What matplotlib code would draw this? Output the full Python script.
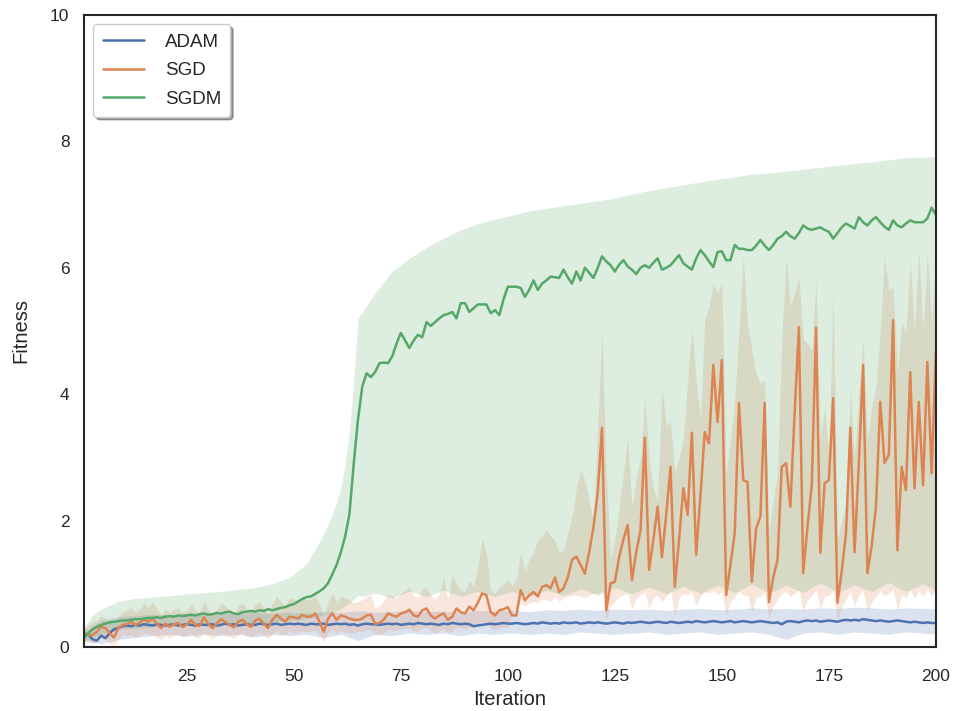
import numpy as np
import matplotlib
matplotlib.use("Agg")
import matplotlib.pyplot as plt
import seaborn as sns

# Iterations 1..200
iterations = np.arange(1, 201)

# Mean fitness per iteration
adam_mean = [
    0.17, 0.20, 0.12, 0.10, 0.18, 0.14, 0.22, 0.28, 0.30, 0.33,
    0.34, 0.33, 0.35, 0.34, 0.36, 0.35, 0.34, 0.36, 0.35, 0.34,
    0.35, 0.36, 0.34, 0.35, 0.36, 0.35, 0.34, 0.36, 0.35, 0.35,
    0.36, 0.34, 0.35, 0.37, 0.35, 0.36, 0.34, 0.35, 0.36, 0.35,
    0.35, 0.37, 0.36, 0.35, 0.36, 0.37, 0.35, 0.36, 0.37, 0.36,
    0.37, 0.36, 0.35, 0.37, 0.36, 0.36, 0.37, 0.35, 0.36, 0.37,
    0.36, 0.37, 0.35, 0.36, 0.34, 0.36, 0.37, 0.36, 0.36, 0.35,
    0.36, 0.37, 0.36, 0.37, 0.35, 0.36, 0.37, 0.36, 0.38, 0.37,
    0.36, 0.37, 0.36, 0.35, 0.37, 0.36, 0.38, 0.37, 0.36, 0.37,
    0.36, 0.33, 0.34, 0.35, 0.36, 0.37, 0.36, 0.37, 0.38, 0.37,
    0.37, 0.38, 0.37, 0.36, 0.37, 0.38, 0.37, 0.39, 0.38, 0.37,
    0.38, 0.37, 0.39, 0.38, 0.38, 0.39, 0.37, 0.38, 0.39, 0.38,
    0.39, 0.38, 0.37, 0.38, 0.39, 0.38, 0.37, 0.39, 0.38, 0.39,
    0.40, 0.39, 0.38, 0.39, 0.40, 0.39, 0.38, 0.40, 0.39, 0.38,
    0.39, 0.40, 0.39, 0.41, 0.40, 0.39, 0.40, 0.41, 0.40, 0.39,
    0.40, 0.41, 0.39, 0.40, 0.41, 0.40, 0.39, 0.40, 0.41, 0.40,
    0.39, 0.38, 0.39, 0.36, 0.40, 0.41, 0.40, 0.39, 0.41, 0.42,
    0.41, 0.42, 0.40, 0.41, 0.42, 0.41, 0.40, 0.42, 0.43, 0.42,
    0.43, 0.42, 0.44, 0.43, 0.42, 0.41, 0.42, 0.41, 0.40, 0.41,
    0.42, 0.41, 0.40, 0.39, 0.40, 0.39, 0.38, 0.39, 0.38, 0.38,
]

sgd_mean = [
    0.22, 0.19, 0.19, 0.24, 0.32, 0.30, 0.22, 0.15, 0.30, 0.35,
    0.36, 0.40, 0.35, 0.38, 0.44, 0.40, 0.45, 0.37, 0.30, 0.37,
    0.32, 0.36, 0.38, 0.32, 0.35, 0.43, 0.35, 0.33, 0.47, 0.37,
    0.30, 0.37, 0.44, 0.40, 0.35, 0.31, 0.40, 0.43, 0.36, 0.32,
    0.42, 0.45, 0.37, 0.30, 0.43, 0.51, 0.45, 0.40, 0.48, 0.47,
    0.45, 0.51, 0.48, 0.48, 0.53, 0.40, 0.24, 0.45, 0.53, 0.43,
    0.50, 0.48, 0.45, 0.43, 0.43, 0.45, 0.50, 0.51, 0.37, 0.38,
    0.43, 0.53, 0.50, 0.48, 0.53, 0.55, 0.59, 0.50, 0.48, 0.58,
    0.61, 0.50, 0.45, 0.50, 0.53, 0.43, 0.48, 0.61, 0.55, 0.53,
    0.64, 0.58, 0.70, 0.85, 0.82, 0.55, 0.50, 0.58, 0.60, 0.63,
    0.50, 0.50, 0.90, 0.74, 0.82, 0.87, 0.80, 0.95, 0.98, 0.93,
    1.10, 0.87, 0.93, 1.10, 1.38, 1.43, 1.30, 1.16, 1.50, 1.90,
    2.44, 3.47, 0.58, 1.01, 1.03, 1.42, 1.70, 1.93, 1.06, 1.50,
    1.85, 3.31, 1.22, 1.70, 2.22, 1.42, 2.10, 2.85, 0.95, 1.70,
    2.51, 2.09, 3.39, 1.46, 2.40, 3.40, 3.22, 4.46, 3.56, 4.54,
    0.82, 1.30, 1.80, 3.86, 2.64, 2.61, 1.03, 1.88, 2.06, 3.86,
    0.71, 1.10, 1.38, 2.85, 2.91, 2.22, 3.70, 5.06, 1.17, 1.90,
    2.56, 5.05, 1.49, 2.59, 2.64, 3.94, 0.70, 1.20, 1.80, 3.47,
    1.50, 2.90, 4.46, 1.17, 1.60, 2.22, 3.88, 2.91, 3.04, 5.17,
    1.53, 2.85, 2.48, 4.35, 2.51, 3.88, 2.56, 4.51, 2.75, 4.67,
]

sgdm_mean = [
    0.15, 0.22, 0.28, 0.32, 0.35, 0.37, 0.39, 0.40, 0.41, 0.42,
    0.42, 0.43, 0.44, 0.44, 0.45, 0.46, 0.46, 0.47, 0.46, 0.48,
    0.49, 0.48, 0.50, 0.49, 0.50, 0.51, 0.50, 0.52, 0.53, 0.51,
    0.52, 0.54, 0.53, 0.55, 0.56, 0.53, 0.52, 0.55, 0.56, 0.57,
    0.56, 0.58, 0.57, 0.60, 0.58, 0.60, 0.62, 0.63, 0.66, 0.68,
    0.72, 0.76, 0.79, 0.80, 0.84, 0.88, 0.93, 1.01, 1.15, 1.30,
    1.50, 1.75, 2.10, 2.90, 3.60, 4.12, 4.33, 4.27, 4.35, 4.49,
    4.50, 4.49, 4.60, 4.80, 4.97, 4.85, 4.73, 4.85, 4.94, 4.90,
    5.14, 5.08, 5.14, 5.20, 5.25, 5.27, 5.30, 5.20, 5.44, 5.44,
    5.30, 5.36, 5.42, 5.42, 5.42, 5.28, 5.33, 5.25, 5.50, 5.70,
    5.70, 5.70, 5.68, 5.54, 5.65, 5.80, 5.65, 5.75, 5.80, 5.86,
    5.85, 5.84, 5.97, 5.85, 5.75, 5.94, 5.80, 6.00, 5.92, 5.84,
    6.00, 6.18, 6.10, 6.04, 5.94, 6.05, 6.12, 6.02, 5.97, 5.90,
    6.00, 6.04, 6.00, 6.08, 6.15, 5.97, 6.00, 6.04, 6.12, 6.20,
    6.07, 6.02, 5.97, 6.15, 6.28, 6.20, 6.10, 6.01, 6.25, 6.26,
    6.12, 6.12, 6.36, 6.30, 6.30, 6.28, 6.28, 6.35, 6.44, 6.35,
    6.28, 6.36, 6.46, 6.50, 6.57, 6.50, 6.46, 6.55, 6.67, 6.62,
    6.60, 6.62, 6.64, 6.60, 6.57, 6.46, 6.55, 6.64, 6.70, 6.66,
    6.62, 6.80, 6.72, 6.67, 6.75, 6.80, 6.72, 6.65, 6.60, 6.75,
    6.67, 6.64, 6.70, 6.75, 6.72, 6.72, 6.72, 6.78, 6.95, 6.84,
]

# SGD confidence band, per iteration
sgd_lo = [
    0.12, 0.08, 0.05, 0.10, 0.15, 0.12, 0.05, 0.03, 0.12, 0.20,
    0.18, 0.20, 0.15, 0.18, 0.22, 0.20, 0.20, 0.15, 0.12, 0.18,
    0.15, 0.18, 0.20, 0.15, 0.18, 0.22, 0.15, 0.15, 0.22, 0.18,
    0.12, 0.18, 0.22, 0.20, 0.16, 0.14, 0.20, 0.22, 0.17, 0.15,
    0.20, 0.22, 0.18, 0.14, 0.20, 0.25, 0.20, 0.20, 0.25, 0.22,
    0.22, 0.26, 0.24, 0.25, 0.28, 0.20, 0.08, 0.22, 0.28, 0.22,
    0.25, 0.24, 0.22, 0.22, 0.24, 0.25, 0.27, 0.28, 0.18, 0.20,
    0.22, 0.28, 0.26, 0.26, 0.28, 0.30, 0.30, 0.26, 0.25, 0.30,
    0.32, 0.26, 0.22, 0.26, 0.28, 0.22, 0.25, 0.32, 0.30, 0.28,
    0.32, 0.30, 0.35, 0.40, 0.38, 0.30, 0.28, 0.30, 0.32, 0.30,
    0.55, 0.60, 0.70, 0.65, 0.70, 0.72, 0.70, 0.75, 0.75, 0.72,
    0.80, 0.72, 0.78, 0.80, 0.82, 0.82, 0.80, 0.78, 0.82, 0.85,
    0.85, 0.88, 0.42, 0.65, 0.72, 0.80, 0.82, 0.85, 0.60, 0.78,
    0.82, 0.88, 0.62, 0.78, 0.82, 0.72, 0.80, 0.88, 0.50, 0.78,
    0.85, 0.82, 0.88, 0.65, 0.80, 0.88, 0.85, 0.90, 0.82, 0.88,
    0.50, 0.72, 0.80, 0.88, 0.82, 0.82, 0.55, 0.78, 0.80, 0.88,
    0.45, 0.65, 0.75, 0.85, 0.88, 0.80, 0.85, 0.90, 0.55, 0.75,
    0.82, 0.90, 0.60, 0.80, 0.82, 0.88, 0.42, 0.62, 0.75, 0.88,
    0.65, 0.82, 0.90, 0.55, 0.72, 0.80, 0.88, 0.82, 0.85, 0.92,
    0.60, 0.82, 0.78, 0.90, 0.78, 0.88, 0.80, 0.92, 0.80, 0.92,
]

sgd_hi = [
    0.30, 0.35, 0.40, 0.42, 0.50, 0.45, 0.40, 0.38, 0.48, 0.55,
    0.58, 0.62, 0.55, 0.60, 0.70, 0.62, 0.72, 0.60, 0.52, 0.60,
    0.55, 0.60, 0.62, 0.55, 0.58, 0.68, 0.58, 0.55, 0.72, 0.60,
    0.52, 0.60, 0.70, 0.65, 0.58, 0.52, 0.65, 0.70, 0.60, 0.55,
    0.68, 0.72, 0.62, 0.52, 0.70, 0.80, 0.72, 0.65, 0.78, 0.75,
    0.72, 0.80, 0.75, 0.75, 0.82, 0.68, 0.50, 0.72, 0.85, 0.72,
    0.80, 0.78, 0.75, 0.70, 0.72, 0.75, 0.80, 0.82, 0.62, 0.65,
    0.72, 0.85, 0.80, 0.78, 0.85, 0.90, 0.95, 0.80, 0.78, 0.92,
    0.95, 0.82, 0.75, 0.85, 1.10, 0.75, 1.15, 1.00, 0.90, 0.88,
    1.05, 0.95, 1.30, 1.70, 1.50, 0.90, 0.85, 0.95, 1.00, 1.06,
    0.96, 1.10, 1.49, 1.20, 1.40, 1.50, 1.69, 1.75, 1.85, 1.75,
    1.69, 1.49, 1.54, 1.80, 2.06, 2.50, 2.80, 2.65, 2.30, 2.00,
    3.50, 4.97, 2.75, 1.38, 1.69, 2.20, 2.75, 3.33, 2.22, 2.65,
    3.00, 3.96, 3.00, 2.50, 2.33, 4.12, 3.49, 3.57, 2.75, 3.00,
    3.28, 4.20, 5.07, 4.22, 3.60, 5.17, 5.39, 5.75, 5.60, 5.75,
    2.75, 3.30, 3.91, 5.00, 6.17, 5.12, 4.70, 4.33, 4.17, 4.22,
    1.85, 2.30, 2.75, 4.86, 6.17, 5.39, 5.60, 5.86, 4.86, 4.80,
    4.70, 5.80, 3.28, 3.80, 3.00, 5.65, 1.69, 2.00, 2.22, 4.06,
    3.00, 4.00, 4.86, 3.28, 3.80, 4.12, 4.97, 6.17, 5.65, 5.70,
    4.33, 5.12, 5.00, 6.12, 5.00, 6.28, 5.00, 6.23, 5.12, 6.28,
]

# ADAM band, read every 4 iterations
adam_band_iter = [1, 5, 9, 13, 17, 21, 25, 29, 33, 37, 41, 45, 49, 53, 57, 61, 65,
                  69, 73, 77, 81, 85, 89, 93, 97, 101, 105, 109, 113, 117, 121, 125,
                  129, 133, 137, 141, 145, 149, 153, 157, 161, 165, 169, 173, 177,
                  181, 185, 189, 193, 197, 200]
adam_lo = [0.10, 0.05, 0.12, 0.15, 0.18, 0.20, 0.17, 0.20, 0.18, 0.20, 0.16, 0.20,
           0.18, 0.20, 0.15, 0.20, 0.10, 0.20, 0.18, 0.22, 0.20, 0.22, 0.18, 0.22,
           0.20, 0.22, 0.20, 0.22, 0.20, 0.24, 0.22, 0.20, 0.22, 0.24, 0.20, 0.22,
           0.24, 0.20, 0.22, 0.24, 0.20, 0.12, 0.22, 0.24, 0.20, 0.24, 0.22, 0.20,
           0.24, 0.22, 0.20]
adam_hi = [0.25, 0.42, 0.48, 0.50, 0.52, 0.50, 0.53, 0.52, 0.54, 0.52, 0.55, 0.53,
           0.55, 0.54, 0.56, 0.55, 0.57, 0.55, 0.56, 0.58, 0.56, 0.57, 0.55, 0.58,
           0.57, 0.58, 0.56, 0.59, 0.58, 0.60, 0.58, 0.60, 0.59, 0.60, 0.58, 0.60,
           0.61, 0.59, 0.60, 0.62, 0.60, 0.61, 0.60, 0.62, 0.61, 0.63, 0.62, 0.60,
           0.62, 0.61, 0.60]

# SGDM band (finer around the jump at ~60)
sgdm_band_iter = [1, 3, 5, 9, 13, 17, 21, 25, 29, 33, 37, 41, 45, 49, 53, 57, 59,
                  61, 62, 63, 64, 65, 66, 69, 73, 77, 81, 85, 89, 93, 97, 101, 105,
                  109, 113, 117, 121, 125, 129, 133, 137, 141, 145, 149, 153, 157,
                  161, 165, 169, 173, 177, 181, 185, 189, 193, 197, 200]
sgdm_hi = [0.30, 0.50, 0.60, 0.72, 0.77, 0.79, 0.81, 0.84, 0.86, 0.88, 0.91, 0.94,
           1.00, 1.10, 1.32, 1.78, 2.10, 2.50, 2.90, 3.40, 4.20, 5.20, 5.30, 5.60,
           5.95, 6.15, 6.32, 6.47, 6.60, 6.70, 6.77, 6.83, 6.90, 6.94, 6.98, 7.02,
           7.06, 7.10, 7.17, 7.22, 7.27, 7.31, 7.36, 7.40, 7.44, 7.48, 7.50, 7.53,
           7.56, 7.59, 7.62, 7.65, 7.68, 7.71, 7.74, 7.75, 7.76]
sgdm_lo = [0.08, 0.15, 0.20, 0.28, 0.30, 0.32, 0.33, 0.35, 0.34, 0.36, 0.35, 0.38,
           0.40, 0.42, 0.45, 0.50, 0.55, 0.60, 0.65, 0.70, 0.75, 0.82, 0.80, 0.85,
           0.78, 0.88, 0.80, 0.90, 0.80, 0.88, 0.80, 0.88, 0.80, 0.90, 0.82, 0.92,
           0.82, 0.94, 0.84, 0.95, 0.84, 0.96, 0.85, 0.98, 0.86, 1.00, 0.85, 0.98,
           0.86, 1.02, 0.86, 0.98, 0.88, 1.02, 0.88, 1.00, 0.90]

colors = {"ADAM": "#4C72B0", "SGD": "#DD8452", "SGDM": "#55A868"}

sns.set_style("white")
plt.rcParams['font.family'] = ['Liberation Sans', 'DejaVu Sans']

fig = plt.figure(figsize=(9.55, 7.11), dpi=100)
ax = fig.add_axes([0.088, 0.090, 0.892, 0.889])

# bands first, lines on top
ax.fill_between(adam_band_iter, adam_lo, adam_hi, color=colors["ADAM"], alpha=0.2, lw=0)
ax.fill_between(iterations, sgd_lo, sgd_hi, color=colors["SGD"], alpha=0.2, lw=0)
ax.fill_between(sgdm_band_iter, sgdm_lo, sgdm_hi, color=colors["SGDM"], alpha=0.2, lw=0)

ax.plot(iterations, adam_mean, color=colors["ADAM"], lw=1.8, label="ADAM")
ax.plot(iterations, sgd_mean, color=colors["SGD"], lw=1.8, label="SGD")
ax.plot(iterations, sgdm_mean, color=colors["SGDM"], lw=1.8, label="SGDM")

ax.set_xlim(1, 200)
ax.set_ylim(0, 10)
ax.set_xticks([25, 50, 75, 100, 125, 150, 175, 200])
ax.set_yticks([0, 2, 4, 6, 8, 10])
ax.tick_params(axis="both", labelsize=12.5, colors="#262626")
ax.tick_params(axis="x", pad=12)
ax.tick_params(axis="y", pad=7)
ax.set_xlabel("Iteration", fontsize=14.5, color="#262626", labelpad=5)
ax.set_ylabel("Fitness", fontsize=14.5, color="#262626", labelpad=14)
for s in ax.spines.values():
    s.set_color("#262626")
    s.set_linewidth(1.5)

ax.legend(loc="upper left", fontsize=13.5, fancybox=True, shadow=True,
          framealpha=1, borderpad=0.5, labelspacing=0.6, handlelength=2.2,
          handletextpad=1.1)

fig.savefig("out.png", dpi=100)
